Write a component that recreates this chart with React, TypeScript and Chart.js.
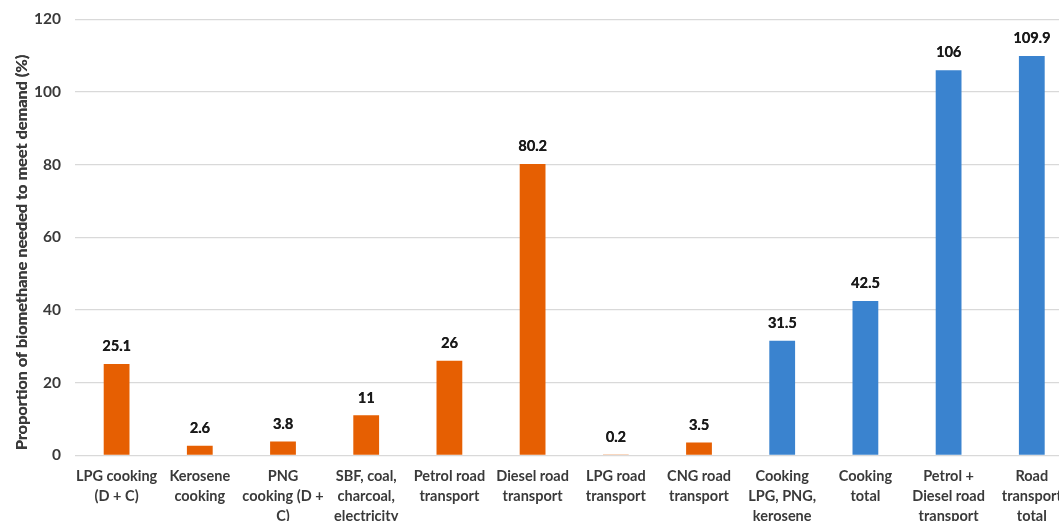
import React, { useEffect, useRef } from "react";
import { Chart, registerables } from "chart.js";

Chart.register(...registerables);

const categories: string[][] = [
  ["LPG cooking", "(D + C)"],
  ["Kerosene", "cooking"],
  ["PNG", "cooking (D +", "C)"],
  ["SBF, coal,", "charcoal,", "electricity"],
  ["Petrol road", "transport"],
  ["Diesel road", "transport"],
  ["LPG road", "transport"],
  ["CNG road", "transport"],
  ["Cooking", "LPG, PNG,", "kerosene"],
  ["Cooking", "total"],
  ["Petrol +", "Diesel road", "transport"],
  ["Road", "transport", "total"],
];

const values: number[] = [25.1, 2.6, 3.8, 11, 26, 80.2, 0.2, 3.5, 31.5, 42.5, 106, 109.9];
const groups: string[] = [
  "single", "single", "single", "single", "single", "single", "single", "single",
  "combined", "combined", "combined", "combined",
];

const yTicks: number[] = [0, 20, 40, 60, 80, 100, 120];
const yTitle = "Proportion of biomethane needed to meet demand (%)";

const ORANGE = "#E65F02";
const BLUE = "#3A83CF";
const FONT = "Lato, 'Open Sans', sans-serif";

const CANVAS_W = 1082;
const CANVAS_H = 570;
const AXIS_Y = 455.3;

const valueLabels = {
  id: "valueLabels",
  afterDatasetsDraw(chart: any) {
    const ctx = chart.ctx;
    const meta = chart.getDatasetMeta(0);
    ctx.save();
    ctx.font = `bold 14.5px ${FONT}`;
    ctx.fillStyle = "#1a1a1a";
    ctx.textAlign = "center";
    ctx.textBaseline = "middle";
    meta.data.forEach((bar: any, i: number) => {
      const t = String(values[i]);
      ctx.fillText(t, bar.x, bar.y - 17.5);
      ctx.fillText(t, bar.x + 0.3, bar.y - 17.5);
    });
    ctx.restore();
  },
};

const axisTitle = {
  id: "axisTitle",
  afterDraw(chart: any) {
    const ctx = chart.ctx;
    const area = chart.chartArea;
    ctx.save();
    ctx.font = `bold 16px ${FONT}`;
    const w = ctx.measureText(yTitle).width;
    const startY = area.bottom - 5;
    ctx.translate(21.5, startY);
    ctx.rotate(-Math.PI / 2);
    ctx.fillStyle = "#3a3a3a";
    ctx.textAlign = "left";
    ctx.textBaseline = "middle";
    const scaleX = Math.min(1.02, 418 / w);
    ctx.scale(scaleX, 1);
    ctx.fillText(yTitle, 0, 0);
    ctx.fillText(yTitle, 0.3, 0);
    ctx.restore();
  },
};

export default function App() {
  const ref = useRef<HTMLCanvasElement | null>(null);

  useEffect(() => {
    if (!ref.current) return;
    const chart = new Chart(ref.current, {
      type: "bar",
      data: {
        labels: categories,
        datasets: [
          {
            data: values,
            backgroundColor: groups.map((g) => (g === "single" ? ORANGE : BLUE)),
            categoryPercentage: 1,
            barPercentage: 0.31,
          },
        ],
      },
      options: {
        responsive: false,
        animation: false,
        devicePixelRatio: 1,
        layout: { padding: { top: 19.3, right: 8.6, left: 0, bottom: 0 } },
        plugins: {
          legend: { display: false },
          tooltip: { enabled: false },
        },
        scales: {
          x: {
            grid: { display: false, drawTicks: false },
            border: { display: false },
            ticks: {
              color: "#3a3a3a",
              font: { family: FONT, size: 14.5, weight: "bold", lineHeight: "20px" },
              padding: 11,
              maxRotation: 0,
              autoSkip: false,
            },
            afterFit: (scale: any) => {
              scale.height = CANVAS_H - AXIS_Y;
            },
          },
          y: {
            min: 0,
            max: 120,
            afterBuildTicks: (scale: any) => {
              scale.ticks = yTicks.map((v) => ({ value: v }));
            },
            grid: { color: "#D9D9D9", lineWidth: 1.3, drawTicks: false },
            border: { display: false },
            ticks: {
              color: "#3a3a3a",
              font: { family: FONT, size: 15.5, weight: "bold" },
              padding: 14,
            },
            afterFit: (scale: any) => {
              scale.width = 75;
              scale.paddingTop = 0;
              scale.paddingBottom = 0;
            },
          },
        },
      },
      plugins: [valueLabels, axisTitle],
    });
    return () => chart.destroy();
  }, []);

  return (
    <div
      style={{
        position: "absolute",
        left: 0,
        top: 0,
        width: 1059,
        height: 521,
        overflow: "hidden",
        background: "#fff",
      }}
    >
      <canvas ref={ref} width={CANVAS_W} height={CANVAS_H} style={{ width: CANVAS_W, height: CANVAS_H, display: "block" }} />
    </div>
  );
}
